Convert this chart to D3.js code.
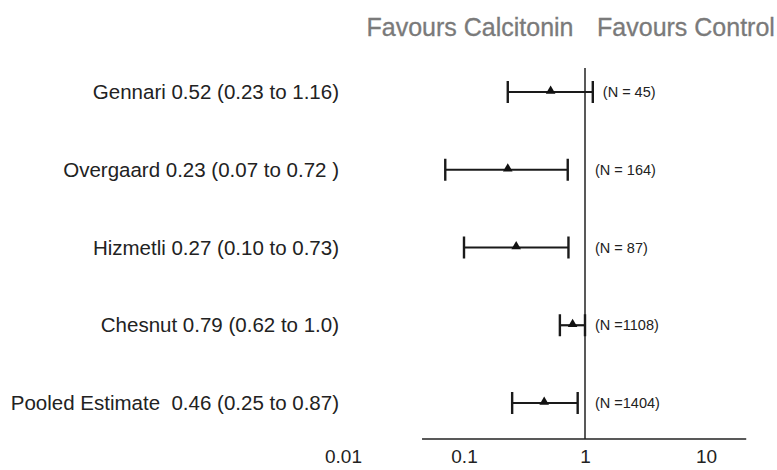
<!DOCTYPE html>
<html>
<head>
<meta charset="utf-8">
<script src="https://cdn.jsdelivr.net/npm/d3@7"></script>
<style>
  body { margin: 0; background: #fff; }
  svg text { font-family: "Liberation Sans", Arial, Helvetica, sans-serif; }
</style>
</head>
<body>
<svg id="chart" width="777" height="470"></svg>
<script>
// study data
const studies = ["Gennari", "Overgaard", "Hizmetli", "Chesnut", "Pooled Estimate"];
const labels = [
  "Gennari 0.52 (0.23 to 1.16)",
  "Overgaard 0.23 (0.07 to 0.72 )",
  "Hizmetli 0.27 (0.10 to 0.73)",
  "Chesnut 0.79 (0.62 to 1.0)",
  "Pooled Estimate\u00a0 0.46 (0.25 to 0.87)"
];
const estimate = [0.52, 0.23, 0.27, 0.79, 0.46];
const lower = [0.23, 0.07, 0.10, 0.62, 0.25];
const upper = [1.16, 0.72, 0.73, 1.0, 0.87];
const nLabels = ["(N = 45)", "(N = 164)", "(N = 87)", "(N =1108)", "(N =1404)"];
const tickValues = [0.01, 0.1, 1, 10];
const axisExtent = [0.045, 21.5];

const rows = studies.map((s, i) => ({
  study: s, label: labels[i], est: estimate[i], lo: lower[i], hi: upper[i], n: nLabels[i]
}));

const svg = d3.select("#chart");

// log scale, 0.01..10
const x = d3.scaleLog().domain([0.01, 10]).range([343, 706]);
const y = d3.scalePoint().domain(studies).range([92, 403]);
const axisY = 439;

// header
svg.append("text")
  .attr("x", 470).attr("y", 36)
  .attr("text-anchor", "middle")
  .attr("font-size", 25)
  .attr("fill", "#7a7a7a")
  .attr("stroke", "#7a7a7a").attr("stroke-width", 0.3)
  .text("Favours Calcitonin");
svg.append("text")
  .attr("x", 686).attr("y", 36)
  .attr("text-anchor", "middle")
  .attr("font-size", 25)
  .attr("fill", "#7a7a7a")
  .attr("stroke", "#7a7a7a").attr("stroke-width", 0.3)
  .text("Favours Control");

// axis line + tick labels
svg.append("line")
  .attr("x1", x(axisExtent[0])).attr("x2", x(axisExtent[1]))
  .attr("y1", axisY).attr("y2", axisY)
  .attr("stroke", "#222").attr("stroke-width", 1.5);

const axis = svg.append("g")
  .attr("transform", `translate(0,${axisY})`)
  .call(d3.axisBottom(x).tickValues(tickValues).tickSize(0).tickPadding(11)
    .tickFormat(d => String(d)));
axis.select(".domain").remove();
axis.selectAll("text")
  .attr("font-size", 19)
  .attr("fill", "#222")
  .style("font-family", '"Liberation Sans", Arial, sans-serif');

// line of no effect
svg.append("line")
  .attr("x1", x(1)).attr("x2", x(1))
  .attr("y1", 68).attr("y2", axisY)
  .attr("stroke", "#222").attr("stroke-width", 1.5);

// rows
const g = svg.append("g").selectAll("g")
  .data(rows).join("g")
  .attr("transform", d => `translate(0,${y(d.study)})`);

g.append("text")
  .attr("x", 339).attr("dy", "0.35em")
  .attr("text-anchor", "end")
  .attr("font-size", 20.5)
  .attr("fill", "#222")
  .text(d => d.label);

g.append("line")
  .attr("x1", d => x(d.lo)).attr("x2", d => x(d.hi))
  .attr("stroke", "#1a1a1a").attr("stroke-width", 2.2);

g.selectAll(".cap")
  .data(d => [d.lo, d.hi]).join("line")
  .attr("class", "cap")
  .attr("x1", v => x(v)).attr("x2", v => x(v))
  .attr("y1", -11).attr("y2", 11)
  .attr("stroke", "#1a1a1a").attr("stroke-width", 2.4);

g.append("path")
  .attr("d", d3.symbol(d3.symbolTriangle, 40))
  .attr("transform", d => `translate(${x(d.est)},-1)`)
  .attr("fill", "#111");

g.append("text")
  .attr("x", d => x(Math.max(d.hi, 1)) + 10).attr("dy", "0.35em")
  .attr("font-size", 14.5)
  .attr("fill", "#222")
  .text(d => d.n);
</script>
</body>
</html>
